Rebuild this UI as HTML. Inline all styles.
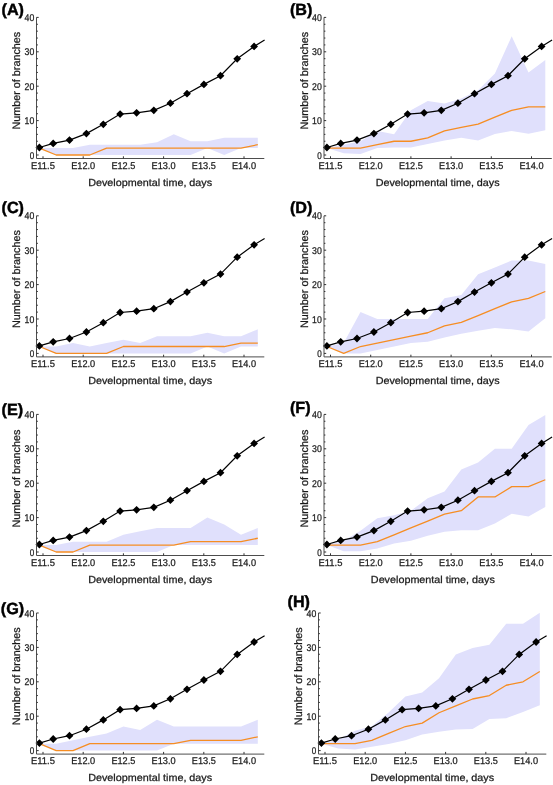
<!DOCTYPE html>
<html><head><meta charset="utf-8"><style>
html,body{margin:0;padding:0;background:#fff;}
svg{display:block;will-change:transform;}
text{font-family:"Liberation Sans",sans-serif;fill:#1a1a1a;text-rendering:geometricPrecision;stroke:#1a1a1a;stroke-width:0.25px;}
.lab{font-weight:bold;fill:#000;stroke:#000;stroke-width:0.45px;}
</style></head><body>
<svg width="553" height="785" viewBox="0 0 553 785">
<rect width="553" height="785" fill="#fff"/>
<defs>
<g id="ax"><path d="M36.5 17.4V158.5H264.3" fill="none" stroke="#4d4d4d" stroke-width="1"/>
<path d="M36.5 155h2.2M36.5 148.12h1.4M36.5 141.24h1.4M36.5 134.36h1.4M36.5 127.48h1.4M36.5 120.6h2.2M36.5 113.72h1.4M36.5 106.84h1.4M36.5 99.96h1.4M36.5 93.08h1.4M36.5 86.2h2.2M36.5 79.32h1.4M36.5 72.44h1.4M36.5 65.56h1.4M36.5 58.68h1.4M36.5 51.8h2.2M36.5 44.92h1.4M36.5 38.04h1.4M36.5 31.16h1.4M36.5 24.28h1.4M36.5 17.4h2.2M43 158.5v-2.2M83.2 158.5v-2.2M123.4 158.5v-2.2M163.6 158.5v-2.2M203.8 158.5v-2.2M244 158.5v-2.2" fill="none" stroke="#333" stroke-width="1"/>
<text x="34.3" y="158.6" text-anchor="end" font-size="9.8" textLength="4.5" lengthAdjust="spacingAndGlyphs">0</text>
<text x="34.3" y="124.2" text-anchor="end" font-size="9.8" textLength="9.7" lengthAdjust="spacingAndGlyphs">10</text>
<text x="34.3" y="89.8" text-anchor="end" font-size="9.8" textLength="9.7" lengthAdjust="spacingAndGlyphs">20</text>
<text x="34.3" y="55.4" text-anchor="end" font-size="9.8" textLength="9.7" lengthAdjust="spacingAndGlyphs">30</text>
<text x="34.3" y="21" text-anchor="end" font-size="9.8" textLength="9.7" lengthAdjust="spacingAndGlyphs">40</text>
<text x="43" y="168.8" text-anchor="middle" font-size="9.8" textLength="24.0" lengthAdjust="spacingAndGlyphs">E11.5</text>
<text x="83.2" y="168.8" text-anchor="middle" font-size="9.8" textLength="24.0" lengthAdjust="spacingAndGlyphs">E12.0</text>
<text x="123.4" y="168.8" text-anchor="middle" font-size="9.8" textLength="24.0" lengthAdjust="spacingAndGlyphs">E12.5</text>
<text x="163.6" y="168.8" text-anchor="middle" font-size="9.8" textLength="24.0" lengthAdjust="spacingAndGlyphs">E13.0</text>
<text x="203.8" y="168.8" text-anchor="middle" font-size="9.8" textLength="24.0" lengthAdjust="spacingAndGlyphs">E13.5</text>
<text x="244" y="168.8" text-anchor="middle" font-size="9.8" textLength="24.0" lengthAdjust="spacingAndGlyphs">E14.0</text></g>
<g id="dat"><polyline points="39.4,147.5 53.2,143.4 69.5,140.1 86.4,133.6 103.3,124.3 120.1,114.1 136.6,112.8 153.8,110.3 170.4,103.2 187,93.7 203.9,84.4 220.5,75.7 237.2,58.8 254.1,46.4 264.6,40.1" fill="none" stroke="#000" stroke-width="1.2"/>
<path d="M39.4 143.6l3.9 3.9l-3.9 3.9l-3.9 -3.9zM53.2 139.5l3.9 3.9l-3.9 3.9l-3.9 -3.9zM69.5 136.2l3.9 3.9l-3.9 3.9l-3.9 -3.9zM86.4 129.7l3.9 3.9l-3.9 3.9l-3.9 -3.9zM103.3 120.4l3.9 3.9l-3.9 3.9l-3.9 -3.9zM120.1 110.2l3.9 3.9l-3.9 3.9l-3.9 -3.9zM136.6 108.9l3.9 3.9l-3.9 3.9l-3.9 -3.9zM153.8 106.4l3.9 3.9l-3.9 3.9l-3.9 -3.9zM170.4 99.3l3.9 3.9l-3.9 3.9l-3.9 -3.9zM187 89.8l3.9 3.9l-3.9 3.9l-3.9 -3.9zM203.9 80.5l3.9 3.9l-3.9 3.9l-3.9 -3.9zM220.5 71.8l3.9 3.9l-3.9 3.9l-3.9 -3.9zM237.2 54.9l3.9 3.9l-3.9 3.9l-3.9 -3.9zM254.1 42.5l3.9 3.9l-3.9 3.9l-3.9 -3.9z" fill="#000"/></g>
</defs>

<text class="lab" x="1.5" y="14.8" font-size="16.2">(A)</text>
<g transform="translate(0 0)">
<polygon points="39.4,148.12 56.2,148.12 73,148.12 89.8,144.68 106.6,144.68 123.4,144.68 140.2,144.68 157,142.27 173.8,134.36 190.6,141.24 207.4,141.24 224.2,137.8 241,137.8 257.8,137.8 257.8,148.12 241,148.12 224.2,155 207.4,148.12 190.6,155 173.8,155 157,155 140.2,155 123.4,155 106.6,155 89.8,155 73,155 56.2,155 39.4,148.12" fill="#e0e0fc"/>
<polyline points="39.4,148.12 56.2,155 73,155 89.8,155 106.6,148.12 123.4,148.12 140.2,148.12 157,148.12 173.8,148.12 190.6,148.12 207.4,148.12 224.2,148.12 241,148.12 257.8,144.68" fill="none" stroke="#f68d22" stroke-width="1.3" stroke-linejoin="round"/>
<use href="#dat"/>
<use href="#ax"/>
<text transform="translate(20 80.65) rotate(-90)" text-anchor="middle" font-size="10.8">Number of branches</text>
<text x="150.15" y="185.9" text-anchor="middle" font-size="10.2" textLength="124" lengthAdjust="spacingAndGlyphs">Developmental time, days</text>
</g>
<text class="lab" x="289.9" y="14.8" font-size="16.2">(B)</text>
<g transform="translate(287.5 0)">
<polygon points="39.4,148.12 56.2,144.68 73,141.24 89.8,130.92 106.6,134.36 123.4,110.28 140.2,100.99 157,103.4 173.8,98.58 190.6,90.33 207.4,73.47 224.2,36.32 241,72.44 257.8,60.06 257.8,130.23 241,133.67 224.2,130.92 207.4,134.02 190.6,140.55 173.8,137.8 157,140.55 140.2,143.99 123.4,147.43 106.6,147.43 89.8,148.12 73,153.97 56.2,153.28 39.4,148.12" fill="#e0e0fc"/>
<polyline points="39.4,148.12 56.2,148.12 73,148.12 89.8,144.68 106.6,141.24 123.4,141.24 140.2,137.8 157,130.92 173.8,127.48 190.6,124.04 207.4,117.16 224.2,110.28 241,106.84 257.8,106.84" fill="none" stroke="#f68d22" stroke-width="1.3" stroke-linejoin="round"/>
<use href="#dat"/>
<use href="#ax"/>
<text transform="translate(20 80.65) rotate(-90)" text-anchor="middle" font-size="10.8">Number of branches</text>
<text x="150.15" y="185.9" text-anchor="middle" font-size="10.2" textLength="124" lengthAdjust="spacingAndGlyphs">Developmental time, days</text>
</g>
<text class="lab" x="1.5" y="213.4" font-size="16.2">(C)</text>
<g transform="translate(0 198.4)">
<polygon points="39.4,148.12 56.2,148.12 73,144.68 89.8,148.12 106.6,144.68 123.4,141.24 140.2,144.68 157,137.8 173.8,137.8 190.6,137.8 207.4,134.36 224.2,137.8 241,137.8 257.8,130.92 257.8,148.12 241,148.12 224.2,155 207.4,148.12 190.6,155 173.8,155 157,155 140.2,155 123.4,155 106.6,155 89.8,155 73,155 56.2,155 39.4,148.12" fill="#e0e0fc"/>
<polyline points="39.4,148.12 56.2,155 73,155 89.8,155 106.6,155 123.4,148.12 140.2,148.12 157,148.12 173.8,148.12 190.6,148.12 207.4,148.12 224.2,148.12 241,144.68 257.8,144.68" fill="none" stroke="#f68d22" stroke-width="1.3" stroke-linejoin="round"/>
<use href="#dat"/>
<use href="#ax"/>
<text transform="translate(20 80.65) rotate(-90)" text-anchor="middle" font-size="10.8">Number of branches</text>
<text x="150.15" y="185.9" text-anchor="middle" font-size="10.2" textLength="124" lengthAdjust="spacingAndGlyphs">Developmental time, days</text>
</g>
<text class="lab" x="289.9" y="213.4" font-size="16.2">(D)</text>
<g transform="translate(287.5 198.4)">
<polygon points="39.4,148.12 56.2,144.68 73,113.72 89.8,120.6 106.6,120.6 123.4,120.6 140.2,120.6 157,99.96 173.8,96.52 190.6,75.88 207.4,69 224.2,62.12 241,62.12 257.8,65.56 257.8,119.91 241,132.98 224.2,130.92 207.4,129.54 190.6,132.3 173.8,135.39 157,139.18 140.2,143.3 123.4,144.68 106.6,148.12 89.8,151.56 73,155 56.2,155 39.4,148.12" fill="#e0e0fc"/>
<polyline points="39.4,148.12 56.2,155 73,148.12 89.8,144.68 106.6,141.24 123.4,137.8 140.2,134.36 157,127.48 173.8,124.04 190.6,117.16 207.4,110.28 224.2,103.4 241,99.96 257.8,93.08" fill="none" stroke="#f68d22" stroke-width="1.3" stroke-linejoin="round"/>
<use href="#dat"/>
<use href="#ax"/>
<text transform="translate(20 80.65) rotate(-90)" text-anchor="middle" font-size="10.8">Number of branches</text>
<text x="150.15" y="185.9" text-anchor="middle" font-size="10.2" textLength="124" lengthAdjust="spacingAndGlyphs">Developmental time, days</text>
</g>
<text class="lab" x="1.5" y="415.3" font-size="16.2">(E)</text>
<g transform="translate(0 397)">
<polygon points="39.4,148.12 56.2,148.12 73,144.68 89.8,144.68 106.6,144.68 123.4,137.8 140.2,134.36 157,130.92 173.8,130.92 190.6,130.92 207.4,120.6 224.2,127.48 241,137.8 257.8,130.92 257.8,148.12 241,148.12 224.2,148.12 207.4,148.12 190.6,148.12 173.8,148.12 157,155 140.2,155 123.4,155 106.6,155 89.8,155 73,155 56.2,155 39.4,148.12" fill="#e0e0fc"/>
<polyline points="39.4,148.12 56.2,155 73,155 89.8,148.12 106.6,148.12 123.4,148.12 140.2,148.12 157,148.12 173.8,148.12 190.6,144.68 207.4,144.68 224.2,144.68 241,144.68 257.8,141.24" fill="none" stroke="#f68d22" stroke-width="1.3" stroke-linejoin="round"/>
<use href="#dat"/>
<use href="#ax"/>
<text transform="translate(20 81.55) rotate(-90)" text-anchor="middle" font-size="10.8">Number of branches</text>
<text x="150.15" y="185.9" text-anchor="middle" font-size="10.2" textLength="124" lengthAdjust="spacingAndGlyphs">Developmental time, days</text>
</g>
<text class="lab" x="289.9" y="413.0" font-size="16.2">(F)</text>
<g transform="translate(287.5 397)">
<polygon points="39.4,148.12 56.2,143.65 73,133.67 89.8,121.29 106.6,118.19 123.4,113.72 140.2,101.34 157,94.46 173.8,72.44 190.6,65.56 207.4,51.8 224.2,51.8 241,28.06 257.8,18.09 257.8,109.94 241,119.57 224.2,116.82 207.4,126.45 190.6,133.33 173.8,133.33 157,134.7 140.2,138.83 123.4,143.65 106.6,146.4 89.8,151.56 73,154.31 56.2,154.31 39.4,148.12" fill="#e0e0fc"/>
<polyline points="39.4,148.12 56.2,148.12 73,148.12 89.8,144.68 106.6,137.8 123.4,130.92 140.2,124.04 157,117.16 173.8,113.72 190.6,99.96 207.4,99.96 224.2,89.64 241,89.64 257.8,82.76" fill="none" stroke="#f68d22" stroke-width="1.3" stroke-linejoin="round"/>
<use href="#dat"/>
<use href="#ax"/>
<text transform="translate(20 81.55) rotate(-90)" text-anchor="middle" font-size="10.8">Number of branches</text>
<text x="145.35" y="185.5" text-anchor="middle" font-size="10.2" textLength="124" lengthAdjust="spacingAndGlyphs">Developmental time, days</text>
</g>
<text class="lab" x="0.8" y="613.8" font-size="16.2">(G)</text>
<g transform="translate(0 595.6)">
<polygon points="39.4,148.12 56.2,148.12 73,144.68 89.8,141.24 106.6,137.8 123.4,130.92 140.2,134.36 157,124.04 173.8,130.92 190.6,130.92 207.4,130.92 224.2,130.92 241,130.92 257.8,124.04 257.8,148.12 241,148.12 224.2,148.12 207.4,148.12 190.6,148.12 173.8,148.12 157,155 140.2,155 123.4,155 106.6,155 89.8,155 73,155 56.2,155 39.4,148.12" fill="#e0e0fc"/>
<polyline points="39.4,148.12 56.2,155 73,155 89.8,148.12 106.6,148.12 123.4,148.12 140.2,148.12 157,148.12 173.8,148.12 190.6,144.68 207.4,144.68 224.2,144.68 241,144.68 257.8,141.24" fill="none" stroke="#f68d22" stroke-width="1.3" stroke-linejoin="round"/>
<use href="#dat"/>
<use href="#ax"/>
<text transform="translate(20 80.65) rotate(-90)" text-anchor="middle" font-size="10.8">Number of branches</text>
<text x="150.15" y="185.9" text-anchor="middle" font-size="10.2" textLength="124" lengthAdjust="spacingAndGlyphs">Developmental time, days</text>
</g>
<text class="lab" x="287.5" y="606.5" font-size="16.2">(H)</text>
<g transform="translate(282 595.6)">
<polygon points="39.4,148.12 56.2,143.99 73,135.05 89.8,130.58 106.6,116.82 123.4,100.99 140.2,96.86 157,82.76 173.8,59.02 190.6,52.49 207.4,49.05 224.2,28.06 241,28.06 257.8,17.06 257.8,109.59 241,116.47 224.2,122.66 207.4,123.35 190.6,133.33 173.8,134.02 157,136.08 140.2,138.83 123.4,144.68 106.6,148.46 89.8,151.22 73,153.97 56.2,152.94 39.4,148.12" fill="#e0e0fc"/>
<polyline points="39.4,148.12 56.2,148.12 73,148.12 89.8,144.68 106.6,137.8 123.4,130.92 140.2,127.48 157,117.16 173.8,110.28 190.6,103.4 207.4,99.96 224.2,89.64 241,86.2 257.8,75.88" fill="none" stroke="#f68d22" stroke-width="1.3" stroke-linejoin="round"/>
<use href="#dat"/>
<use href="#ax"/>
<text transform="translate(20 80.65) rotate(-90)" text-anchor="middle" font-size="10.8">Number of branches</text>
<text x="150.15" y="185.9" text-anchor="middle" font-size="10.2" textLength="124" lengthAdjust="spacingAndGlyphs">Developmental time, days</text>
</g>
</svg></body></html>
